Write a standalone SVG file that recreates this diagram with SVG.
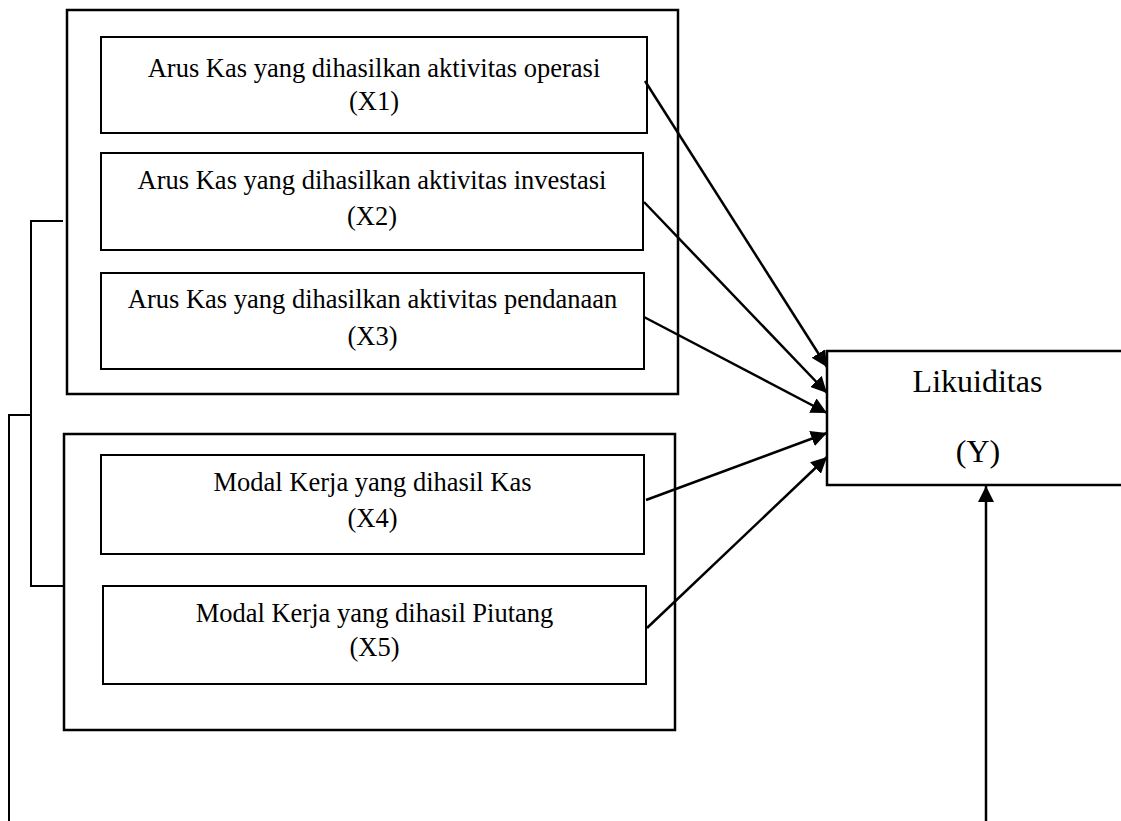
<svg xmlns="http://www.w3.org/2000/svg" width="1121" height="821" viewBox="0 0 1121 821">
<style>
.outer{fill:none;stroke:#000;stroke-width:2.5}
.inner{fill:#fff;stroke:#000;stroke-width:2}
.t{font-family:"Liberation Serif","Times New Roman",serif;font-size:26.5px;fill:#000;text-anchor:middle}
.ty{font-family:"Liberation Serif","Times New Roman",serif;font-size:32px;fill:#000;text-anchor:middle}
.ln{fill:none;stroke:#000;stroke-width:2}
.ar{fill:none;stroke:#000;stroke-width:2.5;marker-end:url(#ah)}
</style>
<defs>
<marker id="ah" viewBox="0 0 16 16" refX="16" refY="8" markerWidth="16" markerHeight="16" markerUnits="userSpaceOnUse" orient="auto">
<path d="M0,0 L16,8 L0,16 Z" fill="#000"/>
</marker>
</defs>
<rect width="1121" height="821" fill="#fff"/>
<g id="group-arus-kas"><rect class="outer" x="67" y="10" width="611" height="384"/></g>
<g id="group-modal-kerja"><rect class="outer" x="64" y="434" width="611" height="296"/></g>
<g id="x1"><rect class="inner" x="101" y="37" width="546" height="96"/>
<text class="t" x="374" y="77">Arus Kas yang dihasilkan aktivitas operasi</text>
<text class="t" x="374" y="110">(X1)</text></g>
<g id="x2"><rect class="inner" x="101" y="153" width="542" height="97"/>
<text class="t" x="372" y="189">Arus Kas yang dihasilkan aktivitas investasi</text>
<text class="t" x="372" y="225">(X2)</text></g>
<g id="x3"><rect class="inner" x="101" y="273" width="543" height="96"/>
<text class="t" x="372.5" y="308">Arus Kas yang dihasilkan aktivitas pendanaan</text>
<text class="t" x="372.5" y="345">(X3)</text></g>
<g id="x4"><rect class="inner" x="101" y="455" width="543" height="99"/>
<text class="t" x="372.5" y="491">Modal Kerja yang dihasil Kas</text>
<text class="t" x="372.5" y="527">(X4)</text></g>
<g id="x5"><rect class="inner" x="103" y="586" width="543" height="98"/>
<text class="t" x="374.5" y="622">Modal Kerja yang dihasil Piutang</text>
<text class="t" x="374.5" y="656">(X5)</text></g>
<g id="y"><rect class="outer" x="827" y="351" width="300" height="134"/>
<text class="ty" x="977.5" y="392">Likuiditas</text>
<text class="ty" x="978" y="462">(Y)</text></g>
<g id="connectors">
<polyline class="ln" points="63,221 31,221 31,586 64,586"/>
<polyline class="ln" points="31,415 9,415 9,821"/>
<line class="ar" x1="645" y1="81" x2="827" y2="367"/>
<line class="ar" x1="644" y1="202" x2="827" y2="393"/>
<line class="ar" x1="644" y1="317" x2="827" y2="413"/>
<line class="ar" x1="646" y1="500" x2="827" y2="433"/>
<line class="ar" x1="647" y1="628" x2="827" y2="457"/>
<line class="ar" x1="986" y1="821" x2="986" y2="486"/>
</g>
</svg>
